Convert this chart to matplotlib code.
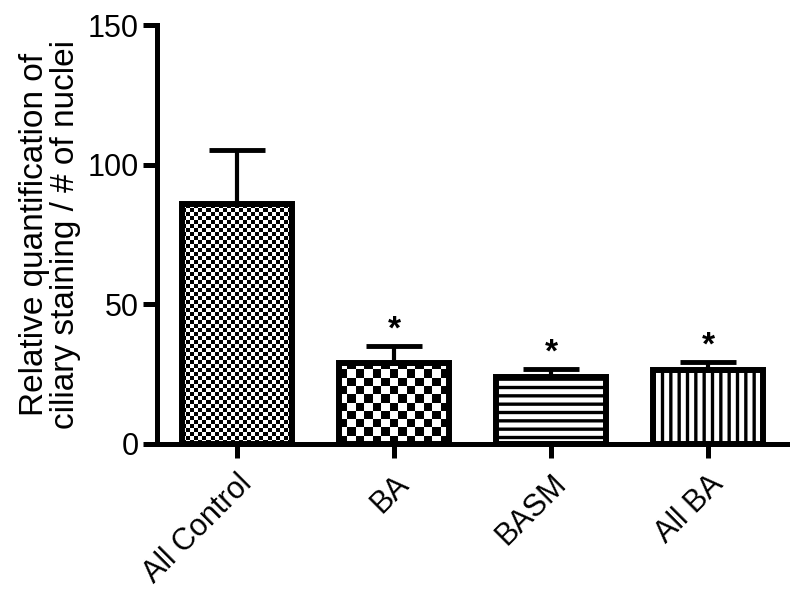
import numpy as np
import matplotlib
matplotlib.use("Agg")
import matplotlib.pyplot as plt

plt.rcParams['font.family'] = ['Liberation Sans', 'DejaVu Sans']
plt.rcParams['hatch.linewidth'] = 2.4
plt.rcParams['hatch.color'] = 'black'

groups = ["All Control", "BA", "BASM", "All BA"]
means = [85.9, 29.0, 24.0, 26.5]
errs = [19.4, 6.1, 2.9, 2.9]
signif = ["", "*", "*", "*"]
fills = ["checker_fine", "checker", "hlines", "vlines"]

fig = plt.figure(figsize=(8.0, 5.93), dpi=100)
ax = fig.add_axes([0.196, 0.2513, 0.788, 0.7065])

x = np.arange(len(groups))
ax.set_xlim(-0.51, 3.503)
ax.set_ylim(0, 150)

# white bars first, patterns on top, outlines last
bars = ax.bar(x, means, width=0.70, color="white", edgecolor="black", linewidth=0, zorder=1)

px_x = 1 / 157.0   # data units per pixel (x)
px_y = 1 / 2.793   # data units per pixel (y)

for b, kind in zip(bars, fills):
    x0, w, h = b.get_x(), b.get_width(), b.get_height()
    if kind.startswith("checker"):
        cell = 4.0 if kind == "checker_fine" else 8.3
        nx = max(int(round(w / px_x / cell)), 1)
        ny = max(int(round(h / px_y / cell)), 1)
        img = (np.indices((ny, nx)).sum(axis=0) % 2).astype(float)
        im = ax.imshow(img, cmap="gray", vmin=0, vmax=1, interpolation="nearest",
                       extent=(x0, x0 + w, 0, ny * cell * px_y), origin="lower",
                       aspect="auto", zorder=1.5)
        im.set_clip_path(b)
    elif kind == "hlines":
        b.set_hatch("--")
    elif kind == "vlines":
        b.set_hatch("||")

ax.bar(x, means, width=0.70, color="none", edgecolor="black", linewidth=4.3, zorder=3)

ax.errorbar(x, means, yerr=[np.zeros(len(errs)), errs], fmt="none", ecolor="black",
            elinewidth=3, capsize=20, capthick=3.5, zorder=2)

for xi, m, e, s in zip(x, means, errs, signif):
    if s:
        ax.annotate(s, (xi, m + e), xytext=(0, 5), textcoords="offset points",
                    ha="center", va="baseline", fontsize=24, fontweight="bold")

for side in ["top", "right"]:
    ax.spines[side].set_visible(False)
for side in ["left", "bottom"]:
    ax.spines[side].set_linewidth(3.6)

ax.set_yticks([0, 50, 100, 150])
ax.set_xticks(x)
ax.set_xticklabels(groups, rotation=45, ha="right", rotation_mode="anchor")
ax.tick_params(axis="both", width=3.6, length=10, labelsize=22, pad=3)
ax.tick_params(axis="x", pad=8)
ax.set_ylabel("Relative quantification of\nciliary staining / # of nuclei", fontsize=24,
              labelpad=5, linespacing=1.0)

fig.savefig("out.png", dpi=100)
